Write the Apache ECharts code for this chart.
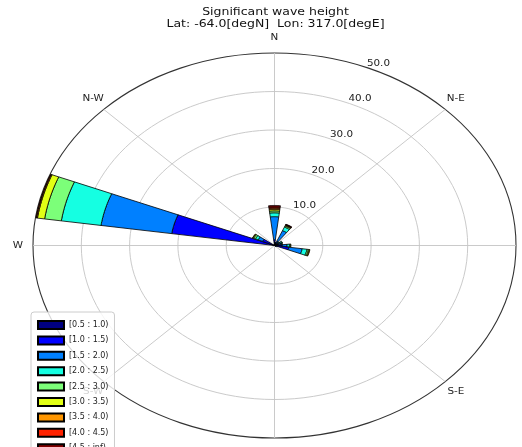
<!DOCTYPE html>
<html>
<head>
<meta charset="utf-8">
<script src="https://cdn.jsdelivr.net/npm/echarts@6/dist/echarts.min.js"></script>
<style>
html, body { margin: 0; padding: 0; background: #ffffff; }
#chart { width: 522px; height: 447px; }
</style>
</head>
<body>
<div id="chart"></div>
<script>
// Wave rose: frequency (%) of significant wave height by direction (24 sectors of 15 deg)
const directions = [0, 15, 30, 45, 60, 75, 90, 105, 120, 135, 150, 165,
                    180, 195, 210, 225, 240, 255, 270, 285, 300, 315, 330, 345];

const binLabels = ['[0.5 : 1.0)', '[1.0 : 1.5)', '[1.5 : 2.0)', '[2.0 : 2.5)', '[2.5 : 3.0)',
                   '[3.0 : 3.5)', '[3.5 : 4.0)', '[4.0 : 4.5)', '[4.5 : inf)'];
const binColors = ['#000080', '#0000ff', '#0080ff', '#15ffe2', '#7cff79',
                   '#e2ff15', '#ff9600', '#ff2200', '#800000'];

// frequency per direction for each height bin
const freqBin1 = [1.0, 0.2, 0.6, 0.2, 0.3, 0.3, 0.4, 0.5, 0.1, 0, 0, 0, 0, 0, 0, 0, 0, 0, 0, 0.8, 0.5, 0, 0, 0];
const freqBin2 = [0.5, 0.2, 0.6, 0.3, 0.5, 0.6, 1.2, 2.5, 0.2, 0, 0, 0, 0, 0, 0, 0, 0, 0, 0, 20.7, 2.2, 0, 0, 0];
const freqBin3 = [6.0, 0.3, 3.0, 0.4, 0.6, 0.5, 1.0, 2.8, 0.1, 0, 0, 0, 0, 0, 0, 0, 0, 0, 0, 14.8, 1.0, 0, 0, 0];
const freqBin4 = [1.0, 0.1, 1.0, 0.2, 0.3, 0.2, 0.5, 1.0, 0, 0, 0, 0, 0, 0, 0, 0, 0, 0, 0, 8.3, 0.6, 0, 0, 0];
const freqBin5 = [0.5, 0, 0.3, 0.1, 0.1, 0.1, 0.2, 0.3, 0, 0, 0, 0, 0, 0, 0, 0, 0, 0, 0, 3.5, 0.4, 0, 0, 0];
const freqBin6 = [0.4, 0, 0.2, 0, 0, 0, 0.1, 0.2, 0, 0, 0, 0, 0, 0, 0, 0, 0, 0, 0, 1.5, 0.2, 0, 0, 0];
const freqBin7 = [0.3, 0, 0.1, 0, 0, 0, 0, 0.1, 0, 0, 0, 0, 0, 0, 0, 0, 0, 0, 0, 0.2, 0.05, 0, 0, 0];
const freqBin8 = [0.3, 0, 0.1, 0, 0, 0, 0, 0, 0, 0, 0, 0, 0, 0, 0, 0, 0, 0, 0, 0.1, 0, 0, 0, 0];
const freqBin9 = [0.4, 0, 0.1, 0, 0, 0, 0, 0, 0, 0, 0, 0, 0, 0, 0, 0, 0, 0, 0, 0, 0, 0, 0, 0];
const freqBins = [freqBin1, freqBin2, freqBin3, freqBin4, freqBin5, freqBin6, freqBin7, freqBin8, freqBin9];

const ringValues = [10, 20, 30, 40, 50];
const ringLabels = ['10.0', '20.0', '30.0', '40.0', '50.0'];
const spokeAngles = [0, 45, 90, 135, 180, 225, 270, 315];
const compassLabels = ['N', 'N-E', 'E', 'S-E', 'S', 'S-W', 'W', 'N-W'];

const titleLines = ['Significant wave height', 'Lat: -64.0[degN]  Lon: 317.0[degE]'];

const RMAX = 50;
const SECTOR = 15;
const OPENING = 0.9;
const LABEL_ANGLE = 22.5;
const TEXT_STRETCH = 1.25;
const FONT = 'DejaVu Sans, sans-serif';

function toXY(deg, r) {
  const a = deg * Math.PI / 180;
  return [r * Math.sin(a), r * Math.cos(a)];
}

const chart = echarts.init(document.getElementById('chart'), null, { renderer: 'canvas' });

// stacked sectors: [direction, r0, r1]
const barSeries = freqBins.map(function (bin, k) {
  const data = [];
  directions.forEach(function (d, i) {
    let r0 = 0;
    for (let j = 0; j < k; j++) r0 += freqBins[j][i];
    const v = bin[i];
    if (v > 0) data.push([d, r0, r0 + v]);
  });
  return {
    name: binLabels[k],
    type: 'custom',
    coordinateSystem: 'cartesian2d',
    z: 5,
    itemStyle: { color: binColors[k], borderColor: '#000000', borderWidth: 0.8 },
    data: data,
    renderItem: function (params, api) {
      const d = api.value(0), r0 = api.value(1), r1 = api.value(2);
      const half = SECTOR * OPENING / 2;
      const pts = [];
      const n = 16;
      for (let s = 0; s <= n; s++) pts.push(api.coord(toXY(d - half + (2 * half) * s / n, r1)));
      for (let s = n; s >= 0; s--) pts.push(api.coord(toXY(d - half + (2 * half) * s / n, r0)));
      return {
        type: 'polygon',
        shape: { points: pts },
        style: { fill: binColors[k], stroke: '#000000', lineWidth: 0.8 }
      };
    }
  };
});

const ringSeries = {
  type: 'custom',
  coordinateSystem: 'cartesian2d',
  silent: true,
  z: 1,
  data: ringValues.map(function (r) { return [r]; }),
  renderItem: function (params, api) {
    const r = api.value(0);
    const c = api.coord([0, 0]);
    const ex = api.coord([r, 0]);
    const ey = api.coord([0, r]);
    const outer = r === RMAX;
    return {
      type: 'ellipse',
      shape: { cx: c[0], cy: c[1], rx: ex[0] - c[0], ry: c[1] - ey[1] },
      style: { fill: null, stroke: outer ? '#333333' : '#c4c4c4', lineWidth: outer ? 1.1 : 0.9 }
    };
  }
};

const spokeSeries = {
  type: 'custom',
  coordinateSystem: 'cartesian2d',
  silent: true,
  z: 1,
  data: spokeAngles.map(function (a) { return [a]; }),
  renderItem: function (params, api) {
    const a = api.value(0);
    const c = api.coord([0, 0]);
    const e = api.coord(toXY(a, RMAX));
    return {
      type: 'line',
      shape: { x1: c[0], y1: c[1], x2: e[0], y2: e[1] },
      style: { stroke: '#c4c4c4', lineWidth: 0.9 }
    };
  }
};

const ringLabelSeries = {
  type: 'custom',
  coordinateSystem: 'cartesian2d',
  silent: true,
  z: 6,
  data: ringValues.map(function (r, i) { return [r, i]; }),
  renderItem: function (params, api) {
    const r = api.value(0);
    const p = api.coord(toXY(LABEL_ANGLE, r));
    return {
      type: 'text',
      x: p[0], y: p[1],
      scaleX: TEXT_STRETCH,
      style: {
        text: ringLabels[api.value(1)],
        fontSize: 8.3, fontFamily: FONT, fill: '#222222',
        align: 'left', verticalAlign: 'bottom'
      }
    };
  }
};

const compassSeries = {
  type: 'custom',
  coordinateSystem: 'cartesian2d',
  silent: true,
  z: 1,
  data: spokeAngles.map(function (a, i) { return [a, i]; }),
  renderItem: function (params, api) {
    const a = api.value(0);
    const e = api.coord(toXY(a, RMAX));
    const rad = a * Math.PI / 180;
    const pad = 15;
    return {
      type: 'text',
      x: e[0] + pad * Math.sin(rad), y: e[1] - pad * Math.cos(rad),
      scaleX: TEXT_STRETCH,
      style: {
        text: compassLabels[api.value(1)],
        fontSize: 8.3, fontFamily: FONT, fill: '#222222',
        align: 'center', verticalAlign: 'middle'
      }
    };
  }
};

chart.setOption({
  animation: false,
  backgroundColor: '#ffffff',
  grid: { left: 33, top: 53, width: 483, height: 385, containLabel: false },
  xAxis: { type: 'value', min: -RMAX, max: RMAX, show: false },
  yAxis: { type: 'value', min: -RMAX, max: RMAX, show: false },
  graphic: titleLines.map(function (t, i) {
    return {
      type: 'text', x: 275.5, y: 12.5 + i * 12.2, scaleX: TEXT_STRETCH, z: 10,
      style: { text: t, fontSize: 10, fontFamily: FONT, fill: '#111111', align: 'center', verticalAlign: 'middle' }
    };
  }),
  legend: {
    data: binLabels,
    orient: 'vertical',
    left: 31, top: 312,
    width: 88, height: 200,
    itemWidth: 26, itemHeight: 8, itemGap: 5.4,
    padding: [8, 6, 8, 6],
    icon: 'rect',
    backgroundColor: 'rgba(255,255,255,0.8)',
    borderColor: '#cccccc', borderWidth: 1, borderRadius: 3,
    textStyle: { fontSize: 8, lineHeight: 8, fontFamily: FONT, color: '#222222' },
    selectedMode: false,
    z: 20
  },
  series: [ringSeries, spokeSeries, compassSeries].concat(barSeries).concat([ringLabelSeries])
});
</script>
</body>
</html>
